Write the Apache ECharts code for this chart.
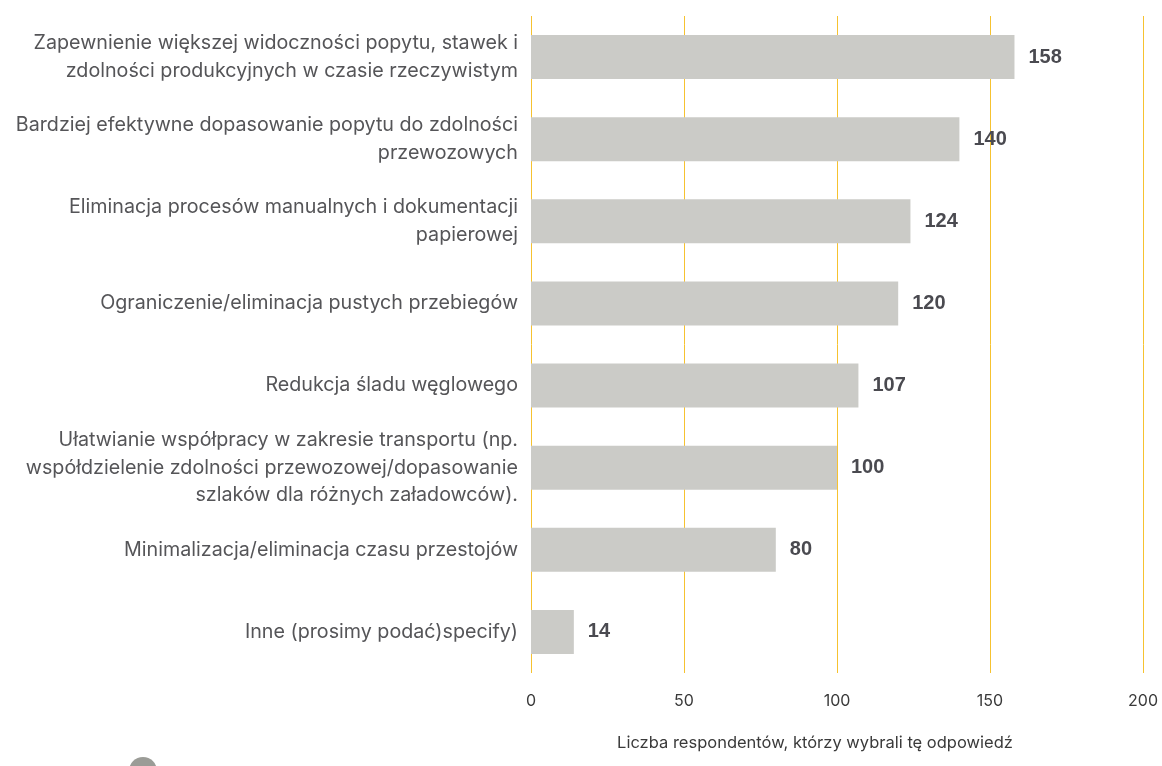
<!DOCTYPE html>
<html>
<head>
<meta charset="utf-8">
<script src="https://cdn.jsdelivr.net/npm/echarts@6/dist/echarts.min.js"></script>
<style>
  html, body { margin: 0; padding: 0; background: #ffffff; }
  #chart { width: 1162px; height: 766px; }
</style>
</head>
<body>
<div id="chart"></div>
<script>
// Survey answers (top to bottom) and how many respondents picked each one
const categories = [
  'Zapewnienie większej widoczności popytu, stawek i\nzdolności produkcyjnych w czasie rzeczywistym',
  'Bardziej efektywne dopasowanie popytu do zdolności\nprzewozowych',
  'Eliminacja procesów manualnych i dokumentacji\npapierowej',
  'Ograniczenie/eliminacja pustych przebiegów',
  'Redukcja śladu węglowego',
  'Ułatwianie współpracy w zakresie transportu (np.\nwspółdzielenie zdolności przewozowej/dopasowanie\nszlaków dla różnych załadowców).',
  'Minimalizacja/eliminacja czasu przestojów',
  'Inne (prosimy podać)specify)'
];
const respondents = [158, 140, 124, 120, 107, 100, 80, 14];
const xTicks = [0, 50, 100, 150, 200];
const seriesName = 'Liczba respondentów';
const axisTitle = 'Liczba respondentów, którzy wybrali tę odpowiedź';

const FONT = 'Inter, "Liberation Sans", Arial, sans-serif';
const FONT_BOLD = '"Liberation Sans", Arial, Helvetica, sans-serif';
const GOLD = '#f6c230';

const chart = echarts.init(document.getElementById('chart'), null, { renderer: 'canvas' });

chart.setOption({
  backgroundColor: '#ffffff',
  animation: false,
  textStyle: { fontFamily: FONT },
  grid: { left: 531, right: 19, top: 16, bottom: 93, containLabel: false },
  legend: {
    left: 129,
    top: 757,
    padding: 0,
    icon: 'circle',
    itemWidth: 28,
    itemHeight: 28,
    formatter: () => ' ',
    data: [{ name: seriesName, itemStyle: { color: '#9b9c97' } }]
  },
  xAxis: {
    type: 'value',
    min: xTicks[0],
    max: xTicks[xTicks.length - 1],
    interval: xTicks[1] - xTicks[0],
    axisLine: { show: false },
    axisTick: { show: false },
    splitLine: {
      show: true,
      lineStyle: { color: GOLD, width: 1 }
    },
    axisLabel: { color: '#3a3a3a', fontSize: 16, margin: 20, fontFamily: FONT },
    name: axisTitle,
    nameLocation: 'middle',
    nameGap: 62,
    nameTextStyle: { color: '#3a3a3a', fontSize: 16.5, fontFamily: FONT, padding: [0, 44, 0, 0] }
  },
  yAxis: {
    type: 'category',
    inverse: true,
    data: categories,
    axisLine: { show: false },
    axisTick: { show: false },
    splitLine: { show: false },
    axisLabel: {
      color: '#555558',
      fontSize: 19.7,
      lineHeight: 27.5,
      margin: 13,
      align: 'right',
      fontFamily: FONT
    }
  },
  series: [{
    name: seriesName,
    type: 'bar',
    data: respondents,
    barWidth: 44,
    itemStyle: { color: '#cbcbc7' },
    label: {
      show: true,
      position: 'right',
      distance: 14,
      color: '#4a4a50',
      fontSize: 20,
      fontWeight: 'bold',
      fontFamily: FONT_BOLD
    }
  }]
});
</script>
</body>
</html>
